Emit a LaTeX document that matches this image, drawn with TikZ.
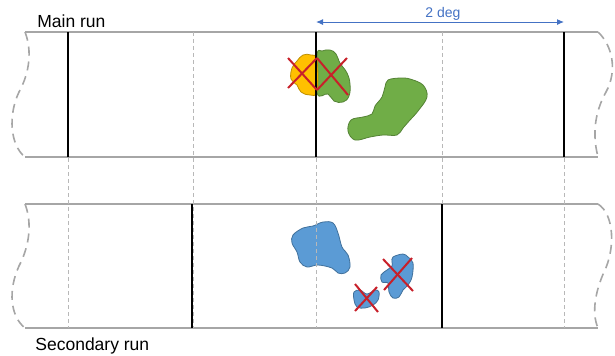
\documentclass[tikz,border=0pt]{standalone}
\usepackage{fontspec}
\setmainfont{Liberation Sans}
\usepackage{tikz}
\usetikzlibrary{positioning}
\usetikzlibrary{arrows.meta}
\definecolor{bandgray}{HTML}{A6A6A6}
\definecolor{degblue}{HTML}{4472C4}
\definecolor{crossred}{HTML}{C8202A}
\definecolor{goldfill}{HTML}{FFC000}
\definecolor{goldedge}{HTML}{BF9000}
\definecolor{greenfill}{HTML}{70AD47}
\definecolor{greenedge}{HTML}{548235}
\definecolor{bluefill}{HTML}{5B9BD5}
\definecolor{blueedge}{HTML}{41719C}

\begin{document}
\begin{tikzpicture}[x=0.5bp,y=-0.5bp,
    band/.style={draw=bandgray, line width=0.8bp},
    wave/.style={draw=bandgray, line width=0.8bp, dash pattern=on 4.5bp off 3bp},
    gridline/.style={draw=bandgray!80, line width=0.4bp, dash pattern=on 2bp off 1.5bp},
    cut/.style={draw=black, line width=1bp},
    cross/.style={draw=crossred, line width=1bp},
    blob/.style={line width=0.4bp},
    lbl/.style={inner sep=0pt, font=\fontsize{8.75bp}{10bp}\selectfont}]

    \useasboundingbox (0,0) rectangle (615,355);

    % main run band
    \draw[band] (25,32) -- (598,32);
    \draw[band] (25,157) -- (598,157);
    \draw[wave] (25,32) .. controls (32,50) and (30,72) .. (19,92) .. controls (8,115) and (10,145) .. (25,157);
    \draw[wave] (598,32) .. controls (612,45) and (618,70) .. (606,92) .. controls (597,108) and (591,130) .. (598,157);

    % secondary run band
    \draw[band] (25,204) -- (598,204);
    \draw[band] (25,328) -- (598,328);
    \draw[wave] (25,204) .. controls (32,222) and (30,245) .. (19,266) .. controls (8,290) and (10,316) .. (25,328);
    \draw[wave] (598,204) .. controls (615,215) and (615,250) .. (604,272) .. controls (596,290) and (591,312) .. (598,328);

    % sources, main run
    \filldraw[blob, fill=greenfill, draw=greenedge] plot[smooth cycle, tension=0.7] coordinates
        {(317,55) (322,51) (330,50) (336,54) (340,63) (347,73) (350,84) (349,96) (343,102) (334,101) (328,94) (317,93)};
    \filldraw[blob, fill=goldfill, draw=goldedge] plot[smooth cycle, tension=0.7] coordinates
        {(303,55) (311,55) (317,60) (317,91) (310,95) (301,92) (297,85) (291,79) (292,68) (297,61)};
    \filldraw[blob, fill=greenfill, draw=greenedge] plot[smooth cycle, tension=0.6] coordinates
        {(388,80) (400,78) (410,79) (423,85) (427,97) (418,111) (410,120) (403,128) (397,135) (383,135)
         (370,137) (355,140) (348,131) (351,120) (363,117) (372,114) (375,106) (382,97) (385,87)};

    % sources, secondary run
    \filldraw[blob, fill=bluefill, draw=blueedge] plot[smooth cycle, tension=0.6] coordinates
        {(293,235) (303,228) (313,226) (323,222) (333,223) (338,233) (342,247) (348,255) (350,267)
         (345,273) (338,273) (332,268) (318,265) (307,267) (300,262) (297,252) (292,243)};
    \filldraw[blob, fill=bluefill, draw=blueedge] plot[smooth cycle, tension=0.6] coordinates
        {(354,292) (360,290) (367,294) (375,290) (379,292) (378,300) (373,305) (365,308) (357,307) (354,300)};
    \filldraw[blob, fill=bluefill, draw=blueedge] plot[smooth cycle, tension=0.6] coordinates
        {(393,257) (403,254) (408,257) (413,263) (412,277) (408,285) (403,290) (399,297) (393,298)
         (389,292) (388,283) (382,282) (381,275) (387,270) (392,266) (392,262)};

    % grid
    \draw[gridline] (68,32) -- (68,328);
    \draw[gridline] (193,32) -- (193,328);
    \draw[gridline] (316,32) -- (316,328);
    \draw[gridline] (442,32) -- (442,328);
    \draw[gridline] (564,32) -- (564,328);

    % tile borders
    \draw[cut] (68,32) -- (68,157);
    \draw[cut] (316,32) -- (316,157);
    \draw[cut] (564,32) -- (564,157);
    \draw[cut] (192,204) -- (192,328);
    \draw[cut] (442,204) -- (442,328);

    % rejected sources
    \draw[cross] (288,58) -- (317,90);
    \draw[cross] (288,88) -- (317,58);
    \draw[cross] (317,58) -- (348,95);
    \draw[cross] (317,90) -- (347,58);
    \draw[cross] (355,284) -- (378,312);
    \draw[cross] (355,311) -- (377,287);
    \draw[cross] (383,259) -- (413,291);
    \draw[cross] (384,290) -- (412,258);

    % labels
    \node[lbl, anchor=base west] (mainrun) at (37,27) {Main run};
    \node[lbl, anchor=base west] (secrun) at (35,350) {Secondary run};

    \coordinate (degl) at (316,22);
    \coordinate (degr) at (564,22);
    \draw[degblue, line width=0.5bp, arrows={Latex[length=3.5bp,width=3bp]-Latex[length=3.5bp,width=3bp]}] (degl) -- (degr);
    \node[lbl, font=\fontsize{7bp}{8bp}\selectfont, text=degblue, anchor=base] (deg) at (443,17) {2 deg};
\end{tikzpicture}
\end{document}
